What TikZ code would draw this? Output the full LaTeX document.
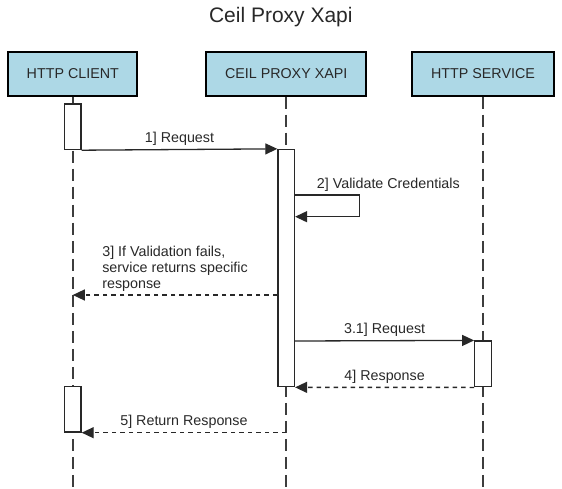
\documentclass[tikz,border=0pt]{standalone}
\usepackage{fontspec}
\setmainfont{Liberation Sans}
\usetikzlibrary{arrows.meta,positioning}
\definecolor{actorblue}{RGB}{173,216,230}
\definecolor{ink}{RGB}{40,40,40}
\tikzset{font=\fontsize{14.3}{15.8}\selectfont}
\tikzstyle{actor}=[rectangle,draw=black,fill=actorblue,line width=2pt,minimum height=43.7pt,inner sep=0pt,text=ink]
\tikzstyle{act}=[rectangle,draw=ink,fill=white,line width=1.3pt,minimum width=16.5pt,inner sep=0pt]
\tikzstyle{life}=[draw=ink!90,line width=1.6pt,dash pattern=on 12pt off 6pt]
\tikzstyle{call}=[line width=1.3pt,draw=ink]
\tikzstyle{reply}=[line width=1.3pt,draw=ink,dash pattern=on 4.5pt off 4pt]
\tikzstyle{lbl}=[text=ink]

\begin{document}
\begin{tikzpicture}
  [x=1pt,y=-1pt,>={Triangle[length=12pt,width=11pt]}]
\useasboundingbox (0,0) rectangle (562,489);
\node[font=\fontsize{21}{25}\selectfont,text=ink] (t) at (280.8,17.5) {Ceil Proxy Xapi};
\node[actor,minimum width=129pt] (c) at (72.8,73.9) {HTTP CLIENT};
\node[actor,minimum width=160.3pt] (p) at (286.2,73.9) {CEIL PROXY XAPI};
\node[actor,minimum width=142pt] (s) at (483,73.9) {HTTP SERVICE};
\coordinate (cl) at (72.8,486.5);
\coordinate (pl) at (286.2,486.5);
\coordinate (sl) at (483,486.5);
\draw[life] (c.south) -- (cl);
\draw[life] (p.south) -- (pl);
\draw[life] (s.south) -- (sl);
% activations
\node[act,minimum height=45.5pt] (a1) at (72.8,126.8) {};
\node[act,minimum height=237.2pt] (a2) at (286.2,268.1) {};
\node[act,minimum height=45.7pt] (a3) at (483,363.9) {};
\node[act,minimum height=45.3pt] (a4) at (72.8,409.4) {};
\coordinate (v1) at (359.5,195);
\coordinate (v2) at (359.5,216.7);
\coordinate (m3) at (0,295);
\coordinate (m31) at (0,341);
% messages
\path[->]
(a1.south east) edge[call] node[lbl,above] {1] Request} (a2.north west)
(a2.west |- m3) edge[reply] node[lbl,above,align=left] {3] If Validation fails,\\service returns specific\\response} (c.south |- m3)
(a2.east |- m31) edge[call] node[lbl,above] {3.1] Request} (a3.north west)
(a3.south west) edge[reply] node[lbl,above] {4] Response} (a2.south east)
(p.south |- a4.south) edge[reply] node[lbl,above] {5] Return Response} (a4.south east);
\draw[call,->] (a2.east |- v1) -- (v1) -- (v2) -- (a2.east |- v2);
\node[lbl,anchor=base west] (lv) at (313.4,189) {2] Validate Credentials};
\end{tikzpicture}
\end{document}
